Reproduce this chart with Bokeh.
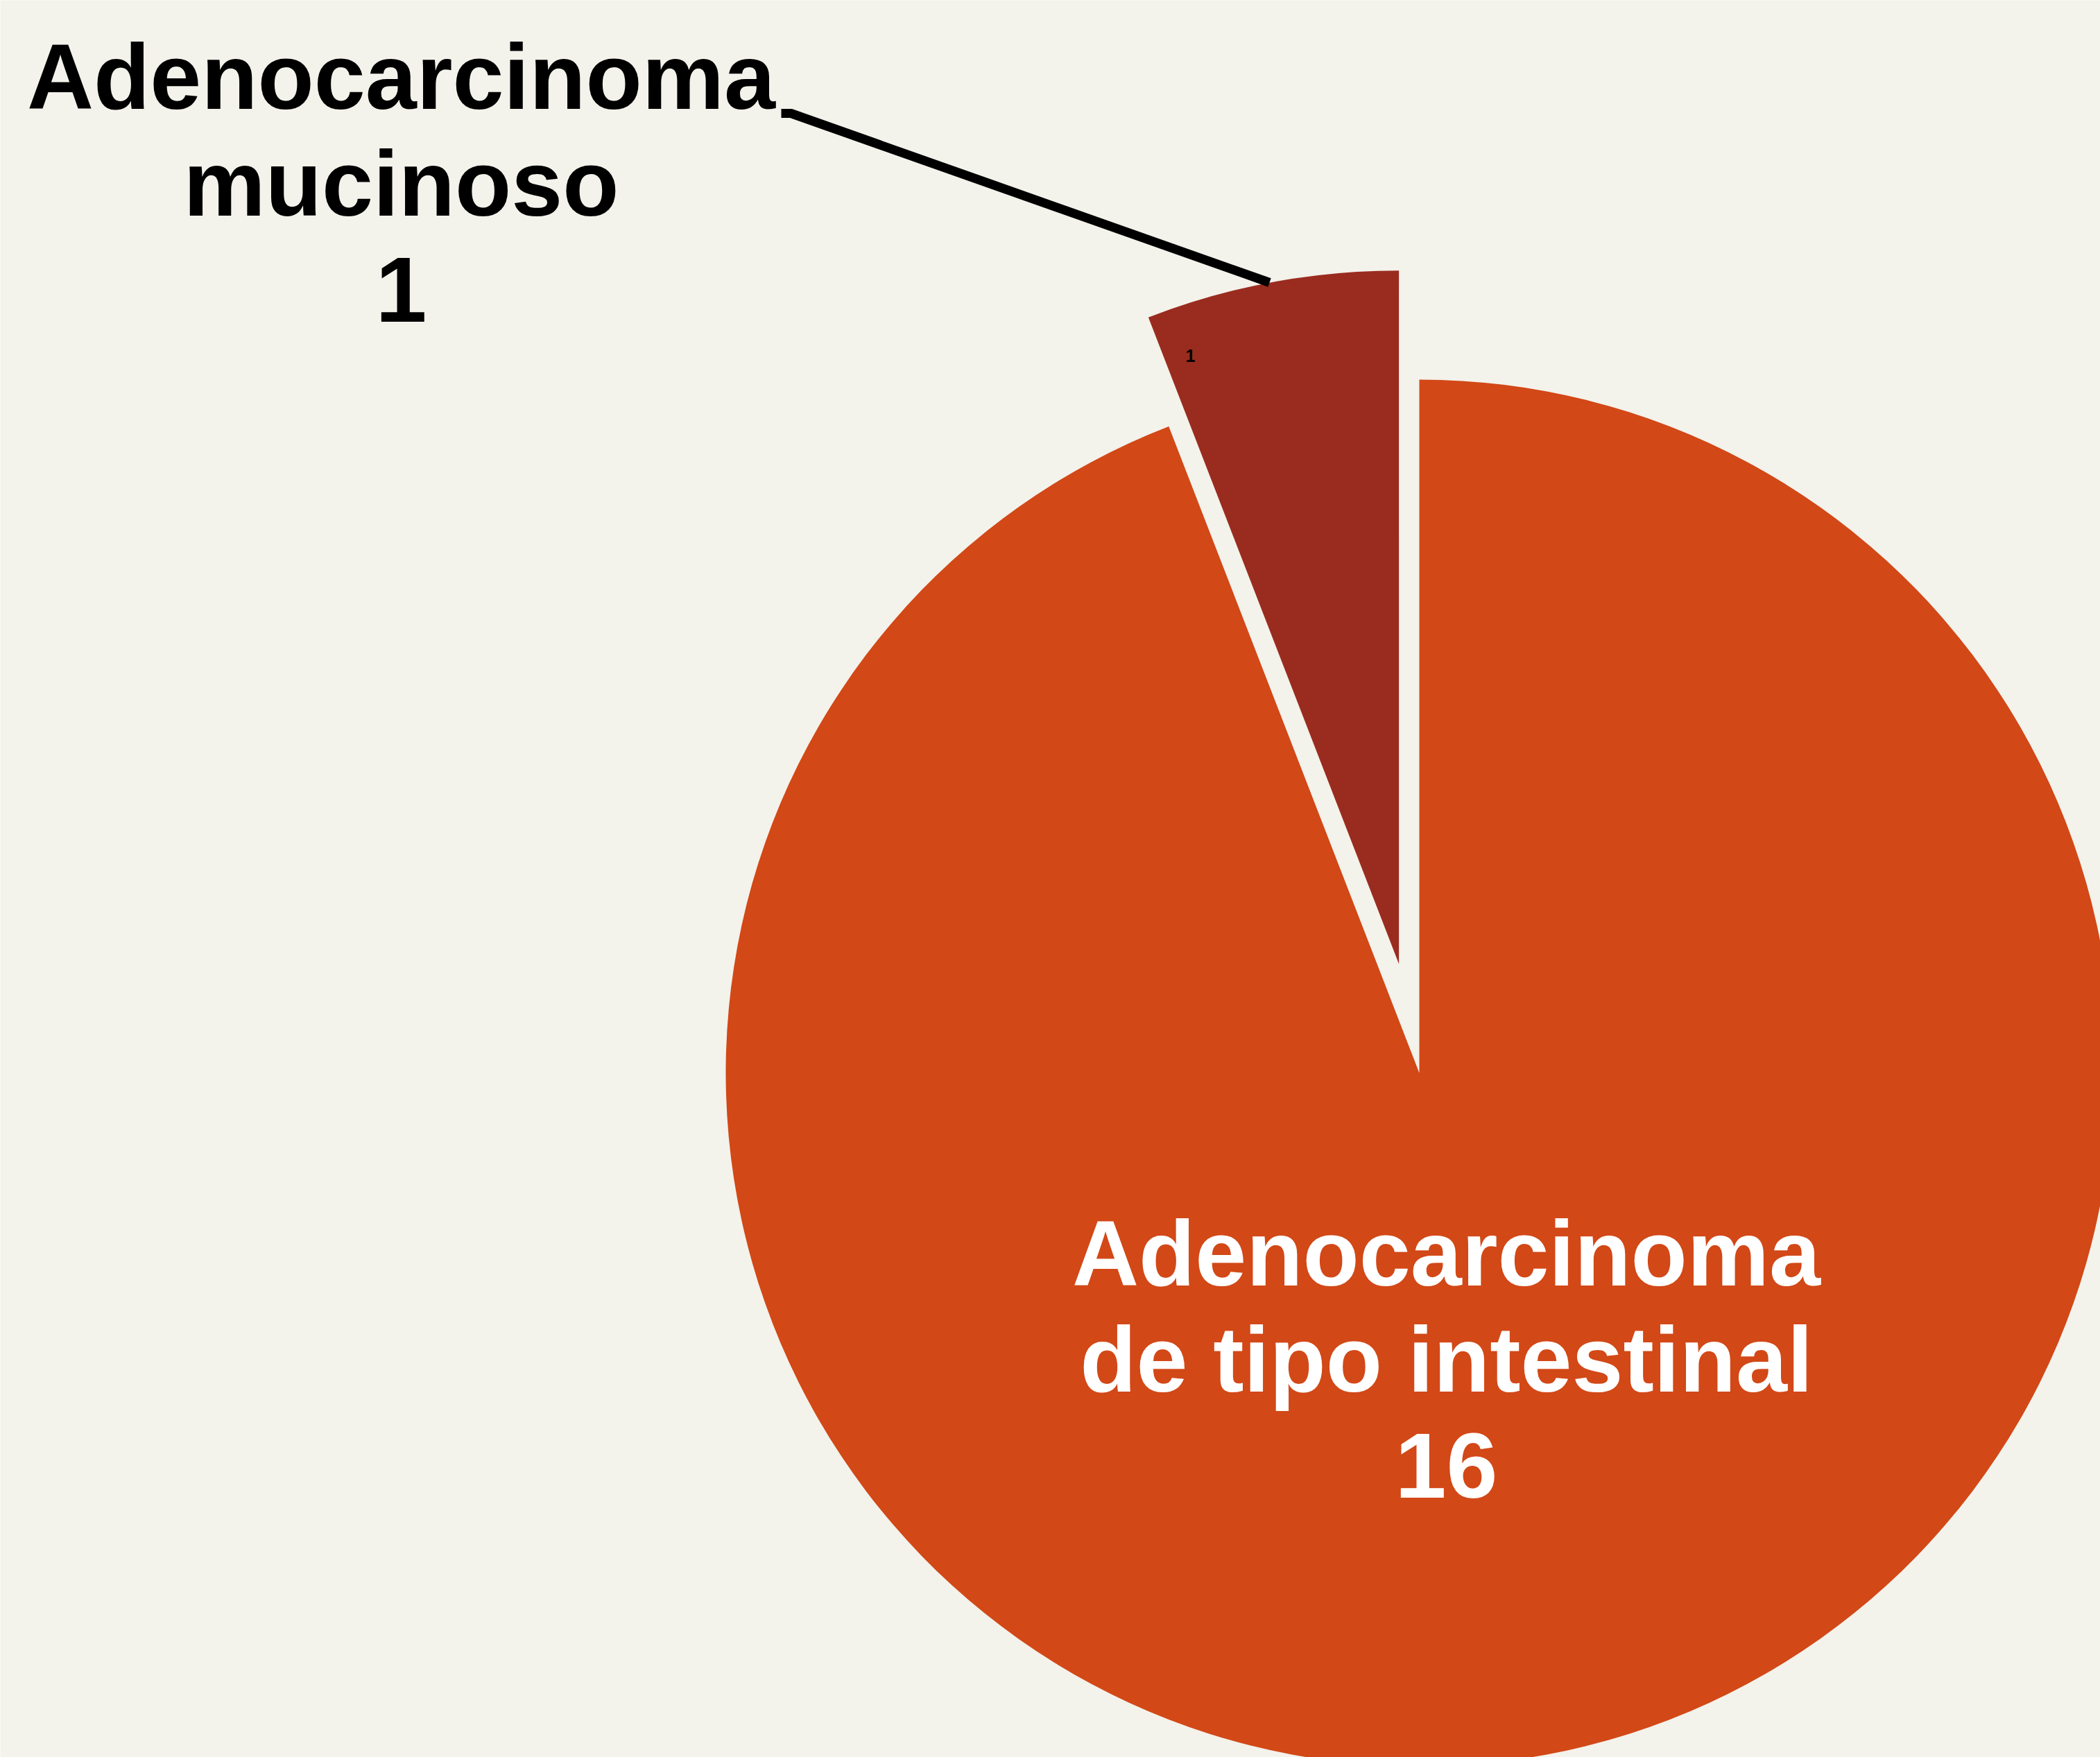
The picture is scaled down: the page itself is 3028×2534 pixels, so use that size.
import math
from bokeh.plotting import figure
from bokeh.models import Range1d, ColumnDataSource
from bokeh.core.properties import value
from bokeh.embed import file_html
from bokeh.resources import INLINE

# ---- data ----
categories = ["Adenocarcinoma mucinoso", "Adenocarcinoma de tipo intestinal"]
label_lines = [["Adenocarcinoma", "mucinoso"], ["Adenocarcinoma", "de tipo intestinal"]]
values = [1, 16]
colors = ["#9a2c1f", "#d24817"]

# ---- layout ----
BG = "#f3f2eb"
W, H = 3028, 2534
CX, CY = 2046, -1547          # pie centre (data units = pixels, y negative downward)
R = 1000
EXPLODE = [160, 0]
FONT = "Liberation Sans"
FS = "133px"

p = figure(width=W, height=H, output_backend="svg", toolbar_location=None,
           x_range=Range1d(0, W), y_range=Range1d(-H, 0),
           x_axis_type=None, y_axis_type=None, min_border=0,
           background_fill_color=BG, border_fill_color=BG)
p.outline_line_color = None
p.grid.visible = False

total = sum(values)
start = math.pi / 2
xs, ys, st, en = [], [], [], []
for v, ex in zip(values, EXPLODE):
    a = 2 * math.pi * v / total
    mid = start + a / 2
    xs.append(CX + ex * math.cos(mid))
    ys.append(CY + ex * math.sin(mid))
    st.append(start)
    en.append(start + a)
    start += a

src = ColumnDataSource(dict(x=xs, y=ys, start=st, end=en, color=colors, cat=categories))
p.wedge(x="x", y="y", radius=R, start_angle="start", end_angle="end",
        direction="anticlock", fill_color="color", line_color=None, source=src)

# leader line for the small slice
p.line(x=[1126, 1140, 1830], y=[-163, -163, -407], line_color="black", line_width=13)

# small inner value label of exploded slice
p.text(x=[1716], y=[-512], text=[str(values[0])], text_color="black",
       text_font=value(FONT), text_font_size="25px", text_font_style="bold",
       text_align="center", text_baseline="middle")

# outside label (mucinoso)
lab0 = label_lines[0] + [str(values[0])]
p.text(x=[578] * 3, y=[-110, -264, -417], text=lab0, text_color="black",
       text_font=value(FONT), text_font_size=FS, text_font_style="bold",
       text_align="center", text_baseline="middle")

# inside label (intestinal)
lab1 = label_lines[1] + [str(values[1])]
p.text(x=[2085] * 3, y=[-1807, -1960, -2113], text=lab1, text_color="white",
       text_font=value(FONT), text_font_size=FS, text_font_style="bold",
       text_align="center", text_baseline="middle")

open("out.html", "w").write(file_html(p, INLINE))
